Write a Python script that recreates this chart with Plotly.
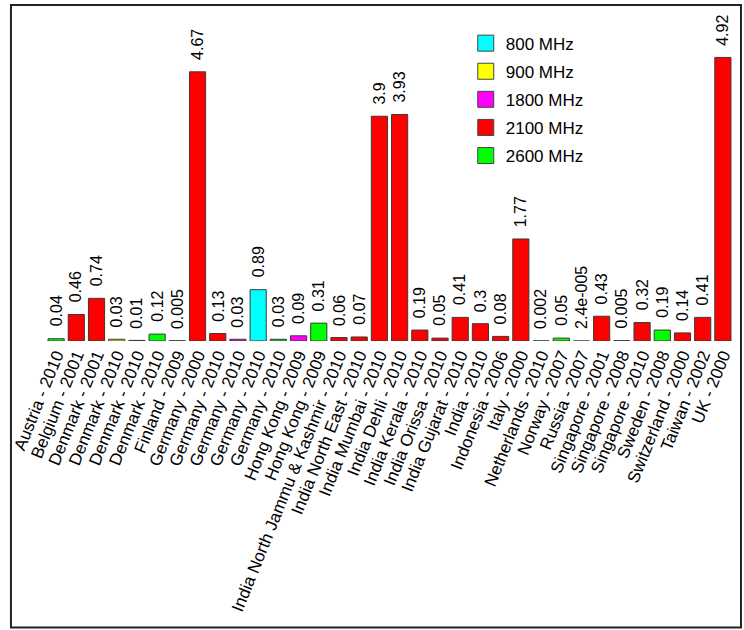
import plotly.graph_objects as go

categories = [
    "Austria - 2010", "Belgium - 2001", "Denmark - 2001", "Denmark - 2010", "Denmark - 2010",
    "Denmark - 2010", "Finland - 2009", "Germany - 2000", "Germany - 2010", "Germany - 2010",
    "Germany - 2010", "Germany - 2010", "Hong Kong - 2009", "Hong Kong - 2009",
    "India North Jammu & Kashmir - 2010", "India North East - 2010", "India Mumbai - 2010",
    "India Dehli - 2010", "India Kerala - 2010", "India Orissa - 2010", "India Gujarat - 2010",
    "India - 2010", "Indonesia - 2006", "Italy - 2000", "Netherlands - 2010", "Norway - 2007",
    "Russia - 2007", "Singapore - 2001", "Singapore - 2008", "Singapore - 2010",
    "Sweden - 2008", "Switzerland - 2000", "Taiwan - 2002", "UK - 2000",
]
values = [0.04, 0.46, 0.74, 0.03, 0.01, 0.12, 0.005, 4.67, 0.13, 0.03, 0.89, 0.03, 0.09, 0.31,
          0.06, 0.07, 3.9, 3.93, 0.19, 0.05, 0.41, 0.3, 0.08, 1.77, 0.002, 0.05, 2.4e-05,
          0.43, 0.005, 0.32, 0.19, 0.14, 0.41, 4.92]
value_labels = ["0.04", "0.46", "0.74", "0.03", "0.01", "0.12", "0.005", "4.67", "0.13", "0.03",
                "0.89", "0.03", "0.09", "0.31", "0.06", "0.07", "3.9", "3.93", "0.19", "0.05",
                "0.41", "0.3", "0.08", "1.77", "0.002", "0.05", "2.4e-005", "0.43", "0.005",
                "0.32", "0.19", "0.14", "0.41", "4.92"]
bands = ["2600 MHz", "2100 MHz", "2100 MHz", "900 MHz", "1800 MHz", "2600 MHz", "2600 MHz",
         "2100 MHz", "2100 MHz", "1800 MHz", "800 MHz", "2600 MHz", "1800 MHz", "2600 MHz",
         "2100 MHz", "2100 MHz", "2100 MHz", "2100 MHz", "2100 MHz", "2100 MHz", "2100 MHz",
         "2100 MHz", "2100 MHz", "2100 MHz", "2600 MHz", "2600 MHz", "2100 MHz", "2100 MHz",
         "2100 MHz", "2100 MHz", "2600 MHz", "2100 MHz", "2100 MHz", "2100 MHz"]
band_names = ["800 MHz", "900 MHz", "1800 MHz", "2100 MHz", "2600 MHz"]
band_colors = ["#00FFFF", "#FFFF00", "#FF00FF", "#FF0000", "#00FF00"]

FONT = "Liberation Sans, Arial, sans-serif"
positions = list(range(len(categories)))

fig = go.Figure()
for name, color in zip(band_names, band_colors):
    idx = [i for i, b in enumerate(bands) if b == name]
    if idx:
        fig.add_trace(go.Bar(
            x=[positions[i] for i in idx], y=[values[i] for i in idx],
            width=0.8, marker=dict(color=color, line=dict(color="#3a3a3a", width=1)),
            showlegend=False, hoverinfo="skip",
        ))
# legend entries
for i, (name, color) in enumerate(zip(band_names, band_colors)):
    fig.add_trace(go.Scatter(
        x=[None], y=[None], mode="markers", name=name, legendgroup=str(i),
        marker=dict(symbol="square", size=16, color=color, line=dict(color="#444", width=1)),
    ))

for p, v, lab in zip(positions, values, value_labels):
    fig.add_annotation(x=p, y=v, text=lab, showarrow=False, textangle=-90,
                       yanchor="bottom", xanchor="center", yshift=10,
                       font=dict(family=FONT, size=16, color="black"))

fig.update_layout(
    width=744, height=630,
    margin=dict(l=44, r=10, t=24, b=289),
    paper_bgcolor="white", plot_bgcolor="white",
    barmode="relative",
    font=dict(family=FONT, color="black"),
    xaxis=dict(range=[-0.5, len(categories) - 0.5], tickmode="array", tickvals=positions,
               ticktext=categories, tickangle=-68, showgrid=False, zeroline=False,
               showline=False, ticks="", tickfont=dict(size=17, family=FONT, color="black")),
    yaxis=dict(range=[0, 5.5], visible=False, showgrid=False, zeroline=False),
    legend=dict(x=0.611, y=0.995, xanchor="left", yanchor="top", bgcolor="rgba(0,0,0,0)",
                font=dict(size=17, family=FONT, color="black"), tracegroupgap=3,
                itemsizing="trace"),
    shapes=[dict(type="rect", xref="paper", yref="paper", x0=-0.051, x1=1.0116,
                 y0=-0.904, y1=1.06, line=dict(color="#222", width=2))],
)

fig.write_html("out.html", config={"displayModeBar": False},
               post_script="document.body.style.margin='0';")
